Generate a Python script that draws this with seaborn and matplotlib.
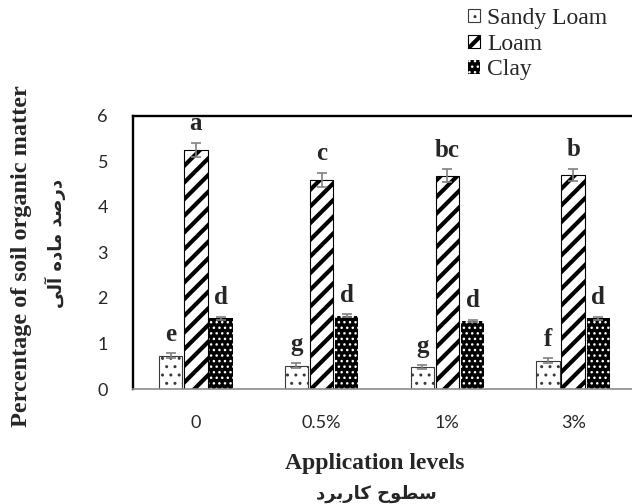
import matplotlib
matplotlib.use("Agg")
import matplotlib.pyplot as plt
import pandas as pd
import seaborn as sns
from matplotlib.patches import Patch

# ---- data -------------------------------------------------------------
levels = ["0", "0.5%", "1%", "3%"]
soils = ["Sandy Loam", "Loam", "Clay"]

sandy_loam = [0.73, 0.51, 0.48, 0.62]
loam = [5.25, 4.59, 4.68, 4.70]
clay = [1.55, 1.61, 1.49, 1.55]

sandy_loam_err = [0.05, 0.05, 0.04, 0.05]
loam_err = [0.15, 0.15, 0.14, 0.14]
clay_err = [0.03, 0.03, 0.03, 0.03]

sandy_loam_letters = ["e", "g", "g", "f"]
loam_letters = ["a", "c", "bc", "b"]
clay_letters = ["d", "d", "d", "d"]

yticks = [0, 1, 2, 3, 4, 5, 6]

xlabel_en = "Application levels"
ylabel_en = "Percentage of soil organic matter"
# Persian captions, written with Arabic presentation forms in visual
# (left-to-right) order because matplotlib does no Arabic shaping.
xlabel_fa = "\uFEA9\uFEAE\uFE91\uFEAD\uFE8E\uFB90 \uFEA1\uFEEE\uFEC4\uFEB3"          # سطوح کاربرد
ylabel_fa = "\uFEF0\uFEDF\uFE81 \uFEE9\uFEA9\uFE8E\uFEE3 \uFEAA\uFEBB\uFEAD\uFEA9"  # درصد ماده آلی

values = {"Sandy Loam": sandy_loam, "Loam": loam, "Clay": clay}
errors = {"Sandy Loam": sandy_loam_err, "Loam": loam_err, "Clay": clay_err}
letters = {"Sandy Loam": sandy_loam_letters, "Loam": loam_letters, "Clay": clay_letters}

df = pd.DataFrame(
    [(lv, s, values[s][i]) for s in soils for i, lv in enumerate(levels)],
    columns=["level", "soil", "value"],
)

# ---- style ------------------------------------------------------------
sns.set_style("white")
plt.rcParams["font.family"] = ["Liberation Serif", "DejaVu Sans"]
plt.rcParams["hatch.linewidth"] = 1.0

serif = "Liberation Serif"
tick_font = "Lato"

bar_style = {
    "Sandy Loam": dict(facecolor="white", edgecolor="#3a3a3a", hatch="..", lw=0.8, hlw=1.0),
    "Loam": dict(facecolor="white", edgecolor="black", hatch="//", lw=0.8, hlw=3.0),
    "Clay": dict(facecolor="black", edgecolor="white", hatch="...", lw=0.0, hlw=1.0),
}


def style_patch(p, st):
    p.set_facecolor(st["facecolor"])
    p.set_edgecolor(st["edgecolor"])
    p.set_hatch(st["hatch"])
    p.set_linewidth(st["lw"])
    if hasattr(p, "set_hatch_linewidth"):
        p.set_hatch_linewidth(st["hlw"])


fig = plt.figure(figsize=(6.32, 5.04), dpi=100)
ax = fig.add_axes([133 / 632, 115 / 504, 503 / 632, 273.3 / 504])

sns.barplot(
    data=df, x="level", y="value", hue="soil",
    order=levels, hue_order=soils,
    width=0.6, gap=0.07, errorbar=None, legend=False, ax=ax,
)

for soil, cont in zip(soils, ax.containers):
    st = bar_style[soil]
    xs = []
    for p in cont.patches:
        style_patch(p, st)
        xs.append(p.get_x() + p.get_width() / 2)
    ax.errorbar(
        xs, values[soil], yerr=errors[soil], fmt="none",
        ecolor="#808080", elinewidth=1.2, capsize=3.6, capthick=1.2, zorder=5,
    )
    for x, v, e, t in zip(xs, values[soil], errors[soil], letters[soil]):
        ax.text(x, v + e + 0.28, t, ha="center", va="baseline",
                fontsize=18, fontweight="bold", family=serif, zorder=6)

ax.set_xlim(-0.5, 3.5)
ax.set_ylim(0, 6)
ax.set_yticks(yticks)
ax.set_xlabel("")
ax.set_ylabel("")

ax.tick_params(axis="both", length=0, labelsize=13, labelcolor="#262626")
ax.tick_params(axis="y", pad=18)
ax.tick_params(axis="x", pad=19)
for lab in ax.get_xticklabels() + ax.get_yticklabels():
    lab.set_fontfamily(tick_font)

for side in ("top", "left"):
    ax.spines[side].set_color("black")
    ax.spines[side].set_linewidth(1.7)
ax.spines["bottom"].set_color("#8c8c8c")
ax.spines["bottom"].set_linewidth(1.2)
ax.spines["right"].set_visible(False)

# axis captions
fig.text(22 / 632, 1 - 256 / 504, ylabel_en, rotation=90, ha="center", va="center",
         fontsize=17.5, fontweight="bold", family=serif)
fig.text(55 / 632, 1 - 243 / 504, ylabel_fa, rotation=90, ha="center", va="center",
         fontsize=13, fontweight="bold", family="DejaVu Sans")
fig.text(375 / 632, 1 - 464 / 504, xlabel_en, ha="center", va="center",
         fontsize=17, fontweight="bold", family=serif)
fig.text(376 / 632, 1 - 494 / 504, xlabel_fa, ha="center", va="center",
         fontsize=13, fontweight="bold", family="DejaVu Sans")

# legend
handles = []
for soil in soils:
    st = bar_style[soil]
    handles.append(Patch(facecolor=st["facecolor"], edgecolor=st["edgecolor"],
                         hatch=st["hatch"], linewidth=st["lw"], label=soil))
leg = fig.legend(
    handles=handles, loc="upper left", bbox_to_anchor=(468 / 632, 1 - 8 / 504),
    frameon=False, prop=dict(family=serif, size=17),
    handlelength=0.5, handleheight=0.5, handletextpad=0.3,
    labelspacing=0.2, borderpad=0, borderaxespad=0,
)
for t in leg.get_texts():
    t.set_fontfamily(serif)
    t.set_fontsize(17)
for soil, p in zip(soils, leg.get_patches()):
    style_patch(p, bar_style[soil])

fig.savefig("out.png", dpi=100)
